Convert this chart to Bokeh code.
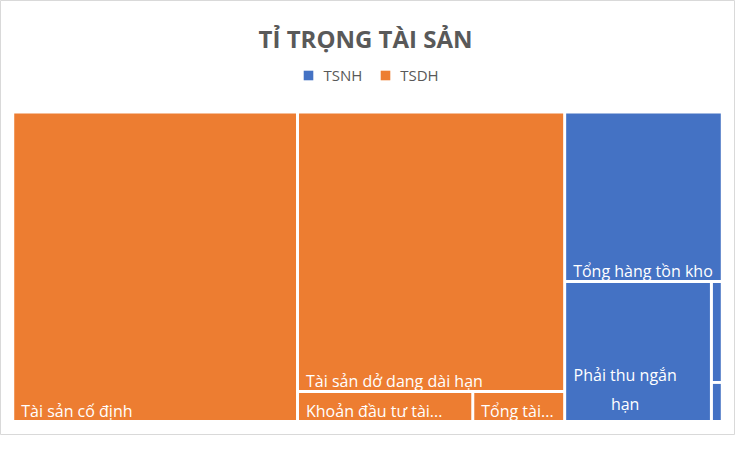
from bokeh.plotting import figure
from bokeh.models import Range1d, Label, Legend, LegendItem, ColumnDataSource
from bokeh.embed import file_html
from bokeh.resources import INLINE
from bokeh.core.properties import value

# ---------------- data ----------------
groups = ["TSNH", "TSDH"]
group_colors = ["#4472C4", "#ED7D31"]

tsnh_names = ["Tổng hàng tồn kho", "Phải thu ngắn hạn",
              "Tiền và các khoản tương đương tiền", "Tài sản ngắn hạn khác"]
tsnh_labels = ["Tổng hàng tồn kho", "Phải thu ngắn\nhạn", "", ""]
tsnh_values = [283.4, 217.5, 11.6, 4.5]

tsdh_names = ["Tài sản cố định", "Tài sản dở dang dài hạn",
              "Khoản đầu tư tài chính dài hạn", "Tổng tài sản dài hạn khác"]
tsdh_labels = ["Tài sản cố định", "Tài sản dở dang dài hạn",
               "Khoản đầu tư tài...", "Tổng tài..."]
tsdh_values = [934.1, 791.7, 55.5, 29.1]

title_text = "TỈ TRỌNG TÀI SẢN"

# ---------------- squarified treemap layout ----------------
def _layout(sizes, x, y, dx, dy):
    out = []
    if dx >= dy:
        w = sum(sizes) / dy
        for s in sizes:
            out.append((x, y, w, s / w))
            y += s / w
    else:
        h = sum(sizes) / dx
        for s in sizes:
            out.append((x, y, s / h, h))
            x += s / h
    return out

def _leftover(sizes, x, y, dx, dy):
    if dx >= dy:
        w = sum(sizes) / dy
        return x + w, y, dx - w, dy
    h = sum(sizes) / dx
    return x, y + h, dx, dy - h

def _worst(sizes, x, y, dx, dy):
    return max(max(r[2] / r[3], r[3] / r[2]) for r in _layout(sizes, x, y, dx, dy))

def _squarify(sizes, x, y, dx, dy):
    if not sizes:
        return []
    if len(sizes) == 1:
        return _layout(sizes, x, y, dx, dy)
    i = 1
    while i < len(sizes) and _worst(sizes[:i], x, y, dx, dy) >= _worst(sizes[:i + 1], x, y, dx, dy):
        i += 1
    cur, rest = sizes[:i], sizes[i:]
    return _layout(cur, x, y, dx, dy) + _squarify(rest, *_leftover(cur, x, y, dx, dy))

def squarify(values, x, y, dx, dy):
    order = sorted(range(len(values)), key=lambda k: -values[k])
    tot = sum(values)
    sizes = [values[k] * dx * dy / tot for k in order]
    rects = _squarify(sizes, x, y, dx, dy)
    res = [None] * len(values)
    for k, r in zip(order, rects):
        res[k] = r
    return res

# ---------------- geometry of the page ----------------
W, H = 735, 435
SX, SY = W / 751.0, H / 451.0
TX, TY, TDX, TDY = 12.5 * SX, 115.5 * SY, 725.0 * SX, 321.0 * SY
GAP = 3.0
FONT = "Open Sans"

children = {"TSNH": (tsnh_values, tsnh_labels), "TSDH": (tsdh_values, tsdh_labels)}
group_totals = [sum(children[g][0]) for g in groups]
group_rects = squarify(group_totals, TX, TY, TDX, TDY)

p = figure(width=W, height=H, output_backend="svg", toolbar_location=None,
           x_axis_type=None, y_axis_type=None, title_location=None,
           x_range=Range1d(0, W), y_range=Range1d(H, 0), min_border=0)
p.grid.visible = False
p.outline_line_color = "#D9D9D9"
p.background_fill_color = "white"
p.border_fill_color = "white"

LINE_H = 20.5
renderers = {}
lab_single = dict(x=[], y=[], text=[])
lab_multi = dict(x=[], y=[], text=[])
for g, col, gr in zip(groups, group_colors, group_rects):
    vals, labs = children[g]
    rects = squarify(vals, *gr)
    src = ColumnDataSource(dict(
        left=[r[0] + GAP / 2 for r in rects],
        right=[r[0] + r[2] - GAP / 2 for r in rects],
        top=[r[1] + GAP / 2 for r in rects],
        bottom=[r[1] + r[3] - GAP / 2 for r in rects],
    ))
    renderers[g] = p.quad(left="left", right="right", top="top", bottom="bottom",
                          source=src, fill_color=col, line_color=None)
    for r, t in zip(rects, labs):
        if not t:
            continue
        left = r[0] + GAP / 2
        bottom = r[1] + r[3] - GAP / 2
        if "\n" in t:
            lines = t.split("\n")
            lw = max(len(s) for s in lines) * 8.0
            lab_multi["x"].append(left + 7 + lw / 2)
            lab_multi["y"].append(bottom - 10 - LINE_H * (len(lines) - 1))
            lab_multi["text"].append(t)
        else:
            lab_single["x"].append(left + 7)
            lab_single["y"].append(bottom - 9)
            lab_single["text"].append(t)

p.text(x="x", y="y", text="text", source=ColumnDataSource(lab_single),
       text_color="white", text_font=value(FONT), text_font_size="16px",
       text_align="left", text_baseline="alphabetic")
p.text(x="x", y="y", text="text", source=ColumnDataSource(lab_multi),
       text_color="white", text_font=value(FONT), text_font_size="16px",
       text_align="center", text_baseline="alphabetic",
       text_line_height=LINE_H / 16.0)

p.add_layout(Label(x=373 * SX, y=39 * SY, text=title_text, text_align="center",
                   text_baseline="alphabetic", text_font=FONT,
                   text_font_size="24px", text_font_style="bold",
                   text_color="#595959"))

legend = Legend(items=[LegendItem(label=g, renderers=[renderers[g]]) for g in groups],
                orientation="horizontal", location=(309 * SX, H - 88 * SY),
                padding=0, margin=0, spacing=17, label_standoff=9,
                glyph_width=12, glyph_height=12, label_height=12,
                label_text_font=FONT, label_text_font_size="15px",
                label_text_color="#595959",
                border_line_color=None, background_fill_alpha=0)
p.add_layout(legend)

open("out.html", "w").write(file_html(p, INLINE))
